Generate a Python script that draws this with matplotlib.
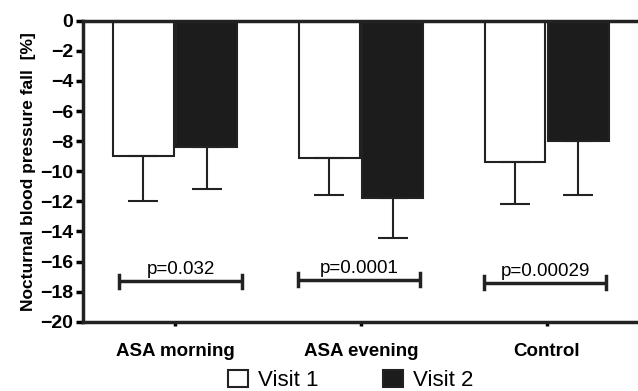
import matplotlib
matplotlib.use("Agg")
import matplotlib.pyplot as plt
import numpy as np

plt.rcParams["font.family"] = ["Liberation Sans", "DejaVu Sans"]

groups = ["ASA morning", "ASA evening", "Control"]
visit1 = [-9.0, -9.1, -9.4]
visit2 = [-8.4, -11.8, -8.0]
err1 = [3.0, 2.45, 2.75]
err2 = [2.75, 2.65, 3.55]
p_labels = ["p=0.032", "p=0.0001", "p=0.00029"]
p_left = [-0.30, -0.34, -0.34]
p_right = [0.36, 0.32, 0.32]
p_y = [-17.3, -17.2, -17.4]

x = np.arange(len(groups))
bw = 0.325
off = 0.17

fig = plt.figure(figsize=(6.38, 3.91), dpi=100)
ax = fig.add_axes([0.130, 0.177, 0.870, 0.770])

# errors only go downward
lo1 = [err1, [0] * 3]
lo2 = [err2, [0] * 3]
ax.bar(x - off, visit1, bw, color="white", edgecolor="#222", linewidth=1.5,
       yerr=lo1, error_kw=dict(ecolor="#222", elinewidth=1.5, capsize=10.5, capthick=1.5),
       label="Visit 1", zorder=2)
ax.bar(x + off, visit2, bw, color="#1c1c1c", edgecolor="#222", linewidth=1.5,
       yerr=lo2, error_kw=dict(ecolor="#222", elinewidth=1.5, capsize=10.5, capthick=1.5),
       label="Visit 2", zorder=2)

for i in range(len(groups)):
    l, r, y = x[i] + p_left[i], x[i] + p_right[i], p_y[i]
    ax.plot([l, r], [y, y], color="#222", lw=2.5, solid_capstyle="butt")
    ax.plot([l, l], [y - 0.43, y + 0.43], color="#222", lw=2.5)
    ax.plot([r, r], [y - 0.43, y + 0.43], color="#222", lw=2.5)
    ax.text((l + r) / 2, y + 0.45, p_labels[i], ha="center", va="baseline", fontsize=13.5)

ax.set_ylim(-20, 0)
ax.set_xlim(-0.495, 2.49)
ax.set_yticks(np.arange(-20, 1, 2))
ax.set_xticks(x)
ax.set_xticklabels(groups, fontsize=13.5, fontweight="bold")
for t in ax.get_yticklabels():
    t.set_fontsize(14)
    t.set_fontweight("bold")
ax.tick_params(axis="y", direction="out", length=5, width=2.5, pad=2)
ax.tick_params(axis="x", direction="out", length=3, width=2.5, pad=12)

for s in ("left", "top", "bottom"):
    ax.spines[s].set_linewidth(2.5)
    ax.spines[s].set_color("#222")
ax.spines["right"].set_visible(False)

ax.set_ylabel("Nocturnal blood pressure fall  [%]", fontsize=12.5, fontweight="bold", labelpad=3)

fig.legend(loc="center", bbox_to_anchor=(0.549, 0.026), ncol=2, frameon=False,
           fontsize=16, handlelength=0.9, handleheight=0.8, columnspacing=2.9,
           handletextpad=0.45, borderpad=0)

fig.savefig("out.png", dpi=100)
